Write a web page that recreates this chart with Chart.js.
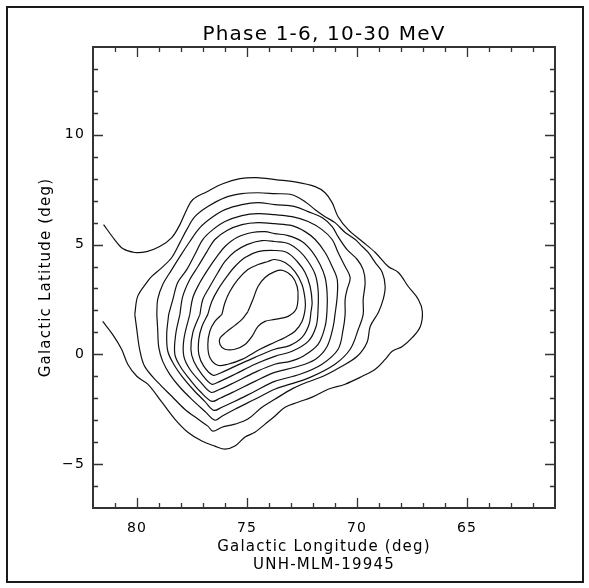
<!DOCTYPE html>
<html>
<head>
<meta charset="utf-8">
<script src="https://cdn.jsdelivr.net/npm/chart.js@4/dist/chart.umd.min.js"></script>
<style>
html,body{margin:0;padding:0;background:#fff;}
#wrap{width:589px;height:588px;position:relative;}
</style>
</head>
<body>
<div id="wrap"><canvas id="c" width="589" height="588"></canvas></div>
<script>
// ---- text ----
const titleText = 'Phase 1-6, 10-30 MeV';
const xTitleLines = ['Galactic Longitude (deg)', 'UNH-MLM-19945'];
const yTitleText = 'Galactic Latitude (deg)';

// ---- axes (deg) ----
const lonRange = [61, 82];
const latRange = [-7, 14];
const lonMajorStep = 5;
const latMajorStep = 5;

// ---- contour lines: [longitude, latitude] ----
const contour1 = [[81.52,5.91],[81.02,5.23],[80.65,4.82],[80.10,4.64],[79.56,4.68],[78.97,4.91],[78.42,5.32],[78.05,5.91],[77.74,6.59],[77.46,7.05],[76.82,7.41],[76.10,7.77],[75.32,8.00],[74.55,8.05],[73.65,7.95],[72.82,7.86],[71.90,7.64],[71.45,7.36],[71.13,6.91],[70.86,6.27],[70.40,5.68],[69.76,5.14],[69.17,4.64],[68.58,4.00],[68.12,3.73],[67.67,3.09],[67.21,2.50],[67.03,1.95],[67.12,1.27],[67.48,0.77],[67.94,0.36],[68.40,0.14],[68.72,-0.23],[69.17,-0.68],[69.76,-1.00],[70.54,-1.36],[71.31,-1.59],[72.04,-1.95],[72.68,-2.18],[73.27,-2.41],[73.74,-2.82],[74.18,-3.18],[74.64,-3.55],[75.09,-3.77],[75.55,-4.18],[76.00,-4.32],[76.46,-4.18],[77.05,-3.95],[77.69,-3.55],[78.28,-2.95],[78.87,-2.18],[79.51,-1.36],[80.01,-1.00],[80.42,-0.45],[80.70,0.23],[81.11,0.91],[81.56,1.50]];
const contour2 = [[80.10,1.82],[79.97,2.64],[79.56,3.27],[79.33,3.55],[78.87,3.95],[78.42,4.41],[78.05,5.09],[77.74,5.68],[77.37,6.27],[76.78,6.73],[76.00,7.14],[75.23,7.32],[74.50,7.36],[73.74,7.32],[72.95,7.27],[72.36,6.95],[71.90,6.59],[71.45,6.27],[71.00,6.00],[70.54,5.55],[70.08,5.23],[69.76,4.91],[69.49,4.64],[69.17,4.18],[68.85,3.73],[68.72,3.09],[68.81,2.50],[69.03,1.91],[69.40,1.27],[69.54,0.55],[69.99,-0.09],[70.77,-0.59],[71.54,-1.00],[72.27,-1.27],[72.91,-1.55],[73.74,-2.05],[74.32,-2.41],[74.96,-2.95],[75.55,-3.18],[76.14,-3.32],[76.55,-3.50],[76.78,-3.27],[77.23,-2.95],[77.83,-2.50],[78.42,-1.91],[79.06,-1.27],[79.65,-0.55],[79.88,0.23],[80.01,1.14],[80.10,1.82]];
const contour3 = [[79.10,1.82],[79.06,2.50],[78.83,3.18],[78.42,3.86],[78.05,4.45],[77.60,5.14],[77.14,5.77],[76.60,6.23],[76.00,6.59],[75.23,6.82],[74.50,6.91],[73.74,6.82],[72.82,6.73],[72.22,6.50],[71.59,6.23],[71.13,5.82],[70.86,5.36],[70.45,4.77],[69.99,4.32],[69.72,3.86],[69.63,3.27],[69.72,2.50],[69.72,1.82],[69.94,1.14],[70.31,0.23],[71.00,-0.45],[72.13,-1.05],[73.04,-1.36],[73.74,-1.59],[74.64,-2.05],[75.55,-2.50],[76.14,-2.82],[76.46,-3.00],[76.92,-2.59],[77.51,-2.05],[78.05,-1.50],[78.51,-0.91],[78.83,-0.32],[79.01,0.32],[79.06,1.14],[79.10,1.82]];
const contour4 = [[78.56,1.82],[78.37,2.50],[78.15,3.27],[77.74,3.86],[77.37,4.55],[77.01,5.23],[76.55,5.68],[76.00,6.05],[75.23,6.32],[74.50,6.41],[73.74,6.36],[72.95,6.27],[72.22,6.05],[71.59,5.68],[71.13,5.23],[70.86,4.64],[70.54,4.00],[70.31,3.50],[70.45,2.95],[70.54,2.50],[70.54,1.82],[70.63,1.14],[70.86,0.23],[71.59,-0.45],[72.59,-0.91],[73.74,-1.23],[74.64,-1.68],[75.55,-2.14],[76.14,-2.41],[76.51,-2.55],[76.92,-2.14],[77.46,-1.59],[77.92,-1.05],[78.33,-0.45],[78.60,0.14],[78.65,0.91],[78.56,1.82]];
const contour5 = [[78.05,1.82],[77.92,2.64],[77.60,3.41],[77.23,4.00],[76.82,4.68],[76.46,5.23],[75.91,5.64],[75.23,5.91],[74.50,6.00],[73.74,5.95],[72.95,5.86],[72.36,5.59],[71.90,5.23],[71.45,4.64],[71.13,4.00],[70.90,3.41],[70.90,2.64],[71.00,1.82],[71.09,1.23],[71.36,0.36],[71.90,-0.23],[72.82,-0.59],[73.74,-0.82],[74.64,-1.23],[75.55,-1.68],[76.23,-2.00],[76.60,-2.14],[77.14,-1.68],[77.60,-1.14],[78.01,-0.59],[78.28,0.00],[78.24,0.91],[78.05,1.82]];
const contour6 = [[77.60,1.82],[77.46,2.59],[77.14,3.27],[76.78,3.86],[76.37,4.45],[76.00,4.91],[75.46,5.32],[74.77,5.55],[74.18,5.59],[73.74,5.50],[73.13,5.41],[72.50,5.14],[72.04,4.68],[71.68,4.09],[71.45,3.50],[71.36,2.82],[71.36,2.05],[71.45,1.27],[71.77,0.45],[72.45,-0.09],[73.04,-0.32],[73.74,-0.45],[74.64,-0.82],[75.55,-1.27],[76.23,-1.59],[76.64,-1.73],[77.14,-1.23],[77.60,-0.68],[77.87,-0.09],[77.87,0.68],[77.60,1.82]];
const contour7 = [[77.14,1.82],[77.01,2.50],[76.69,3.09],[76.32,3.73],[76.00,4.23],[75.55,4.68],[75.00,5.00],[74.32,5.18],[73.74,5.14],[73.13,5.05],[72.59,4.68],[72.22,4.23],[71.90,3.64],[71.77,2.95],[71.77,2.05],[71.86,1.27],[72.22,0.59],[72.95,0.14],[73.74,-0.09],[74.64,-0.45],[75.55,-0.91],[76.23,-1.23],[76.60,-1.36],[77.05,-0.91],[77.42,-0.32],[77.55,0.23],[77.46,1.00],[77.14,1.82]];
const contour8 = [[76.78,1.82],[76.60,2.41],[76.32,2.95],[75.91,3.55],[75.55,4.00],[75.09,4.41],[74.50,4.68],[73.74,4.73],[73.18,4.64],[72.72,4.23],[72.36,3.73],[72.13,3.09],[72.04,2.36],[72.09,1.95],[72.18,1.36],[72.50,0.77],[73.04,0.41],[73.74,0.23],[74.64,-0.14],[75.55,-0.55],[76.23,-0.86],[76.55,-0.95],[76.96,-0.55],[77.19,0.00],[77.19,0.68],[77.05,1.27],[76.78,1.82]];
const contour9 = [[76.14,1.82],[76.00,2.36],[75.78,2.86],[75.41,3.41],[74.96,3.86],[74.50,4.09],[74.05,4.23],[73.74,4.32],[73.27,4.18],[72.82,3.77],[72.50,3.18],[72.36,2.50],[72.36,2.05],[72.50,1.50],[72.82,1.05],[73.27,0.77],[73.74,0.55],[74.41,0.23],[75.23,-0.23],[75.87,-0.45],[76.32,-0.50],[76.69,-0.14],[76.78,0.45],[76.69,1.05],[76.46,1.50],[76.14,1.82]];
const contour10 = [[74.96,1.95],[74.73,2.50],[74.50,3.09],[74.18,3.50],[73.74,3.77],[73.36,3.82],[72.95,3.55],[72.72,3.09],[72.68,2.59],[72.77,2.05],[73.13,1.73],[73.74,1.59],[74.18,1.50],[74.50,1.27],[74.77,0.82],[75.09,0.45],[75.55,0.23],[76.00,0.23],[76.23,0.45],[76.23,0.73],[75.96,1.00],[75.55,1.32],[75.23,1.59],[74.96,1.95]];

const contours = [contour1, contour2, contour3, contour4, contour5, contour6, contour7, contour8, contour9, contour10];

const FONT = "'DejaVu Sans', 'Liberation Sans', sans-serif";

const spacingPlugin = {
  id: 'spacing',
  beforeLayout(chart) { chart.ctx.letterSpacing = '1.2px'; },
  beforeDraw(chart) { chart.ctx.letterSpacing = '1.2px'; }
};

const framePlugin = {
  id: 'frame',
  afterDraw(chart) {
    const ctx = chart.ctx;
    const a = chart.chartArea;
    const xs = chart.scales.x, ys = chart.scales.y;
    ctx.save();
    ctx.letterSpacing = '0px';
    // outer page border
    ctx.strokeStyle = '#1a1a1a';
    ctx.lineWidth = 2;
    ctx.strokeRect(7, 7, 576, 575);
    // plot frame
    ctx.strokeStyle = '#333';
    ctx.lineWidth = 2;
    ctx.strokeRect(a.left, a.top, a.right - a.left, a.bottom - a.top);
    // ticks on all sides, pointing inward
    ctx.lineWidth = 1.3;
    ctx.beginPath();
    for (let v = Math.ceil(lonRange[0]) + 1; v < lonRange[1]; v++) {
      const px = Math.round(xs.getPixelForValue(v)) + 0.5;
      const len = (v % lonMajorStep === 0) ? 10 : 5;
      ctx.moveTo(px, a.bottom); ctx.lineTo(px, a.bottom - len);
      ctx.moveTo(px, a.top); ctx.lineTo(px, a.top + len);
    }
    for (let v = latRange[0] + 1; v < latRange[1]; v++) {
      const py = Math.round(ys.getPixelForValue(v)) + 0.5;
      const len = (v % latMajorStep === 0) ? 10 : 5;
      ctx.moveTo(a.left, py); ctx.lineTo(a.left + len, py);
      ctx.moveTo(a.right, py); ctx.lineTo(a.right - len, py);
    }
    ctx.stroke();
    ctx.restore();
  }
};

const datasets = contours.map((c, i) => ({
  label: 'level ' + (i + 1),
  data: c.map(([x, y]) => ({ x, y })),
  showLine: true,
  borderColor: '#111',
  borderWidth: 1.2,
  pointRadius: 0,
  pointHoverRadius: 0,
  tension: 0.35,
  fill: false
}));

const fmtTick = v => (v < 0 ? '\u2212' + Math.abs(v) : String(v));

new Chart(document.getElementById('c'), {
  type: 'scatter',
  data: { datasets },
  plugins: [spacingPlugin, framePlugin],
  options: {
    responsive: false,
    devicePixelRatio: 1,
    animation: false,
    events: [],
    layout: { padding: { left: 0, right: 34, top: 0, bottom: 0 } },
    plugins: {
      legend: { display: false },
      tooltip: { enabled: false },
      title: {
        display: true,
        fullSize: false,
        text: titleText,
        color: '#000',
        font: { family: FONT, size: 20, weight: 'normal', lineHeight: 1.2 },
        padding: { top: 23, bottom: 0 }
      }
    },
    scales: {
      x: {
        type: 'linear',
        position: 'bottom',
        min: lonRange[0],
        max: lonRange[1],
        reverse: true,
        grid: { display: false, drawTicks: false },
        border: { display: false },
        ticks: {
          stepSize: lonMajorStep,
          includeBounds: false,
          maxRotation: 0,
          autoSkip: false,
          color: '#000',
          padding: 12,
          font: { family: FONT, size: 14 },
          callback: fmtTick
        },
        title: {
          display: true,
          text: xTitleLines,
          color: '#000',
          font: { family: FONT, size: 15, lineHeight: 1.2 },
          padding: { top: 0, bottom: 14 }
        },
        afterFit(scale) { scale.height = 80; }
      },
      y: {
        type: 'linear',
        position: 'left',
        min: latRange[0],
        max: latRange[1],
        grid: { display: false, drawTicks: false },
        border: { display: false },
        ticks: {
          stepSize: latMajorStep,
          includeBounds: false,
          color: '#000',
          padding: 8,
          font: { family: FONT, size: 14 },
          callback: fmtTick
        },
        title: {
          display: true,
          text: yTitleText,
          color: '#000',
          font: { family: FONT, size: 15, lineHeight: 1.2 },
          padding: { top: 37, bottom: 0 }
        },
        afterFit(scale) { scale.width = 93; }
      }
    }
  }
});
</script>
</body>
</html>
